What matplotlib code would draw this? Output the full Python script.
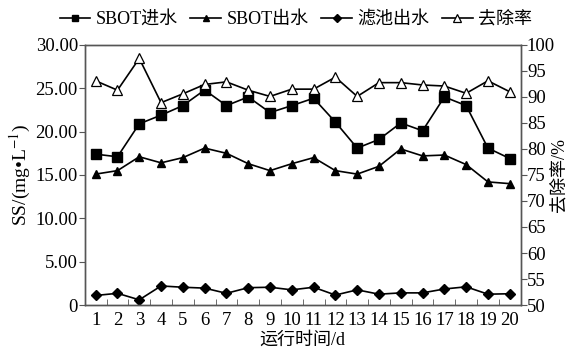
import matplotlib.pyplot as plt
from matplotlib.ticker import FixedLocator, NullFormatter

plt.rcParams['font.family'] = ['Liberation Serif', 'Noto Sans CJK SC']
plt.rcParams['mathtext.fontset'] = 'stix'

# data
days = list(range(1, 21))
sbot_in = [17.4, 17.1, 20.9, 21.9, 23.0, 24.8, 23.0, 24.0, 22.2, 23.0,
           23.85, 21.1, 18.1, 19.1, 21.0, 20.1, 24.0, 23.0, 18.1, 16.9]
sbot_out = [15.1, 15.5, 17.1, 16.4, 17.0, 18.1, 17.5, 16.3, 15.5, 16.3,
            17.0, 15.5, 15.1, 16.0, 18.0, 17.2, 17.3, 16.2, 14.2, 14.0]
filter_out = [1.1, 1.35, 0.6, 2.2, 2.05, 1.95, 1.35, 2.0, 2.05, 1.75,
              2.05, 1.15, 1.75, 1.25, 1.4, 1.4, 1.85, 2.1, 1.25, 1.3]
removal = [93.1, 91.3, 97.4, 88.9, 90.6, 92.4, 92.9, 91.3, 90.1, 91.5,
           91.5, 93.8, 90.1, 92.75, 92.75, 92.3, 92.1, 90.7, 93.1, 91.0]

left_ticks = [0, 5, 10, 15, 20, 25, 30]
left_labels = ['0', '5.00', '10.00', '15.00', '20.00', '25.00', '30.00']
right_ticks = [50, 55, 60, 65, 70, 75, 80, 85, 90, 95, 100]

fig = plt.figure(figsize=(5.69, 3.51), dpi=100)
ax = fig.add_axes([0.149, 0.131, 0.766, 0.741])
ax2 = ax.twinx()

lw = 1.2
l1, = ax.plot(days, sbot_in, color='black', lw=lw, marker='s', ms=6.5, label='SBOT进水')
l2, = ax.plot(days, sbot_out, color='black', lw=lw, marker='^', ms=6, label='SBOT出水')
l3, = ax.plot(days, filter_out, color='black', lw=lw, marker='D', ms=5.5, label='滤池出水')
l4, = ax2.plot(days, removal, color='black', lw=lw, marker='^', ms=7,
               markerfacecolor='white', markeredgewidth=0.9, label='去除率')

ax.set_xlim(0.5, 20.5)
ax.set_ylim(0, 30)
ax2.set_ylim(50, 100)

ax.set_yticks(left_ticks)
ax.set_yticklabels(left_labels)
ax2.set_yticks(right_ticks)

fs = 13.5
ax.set_xticks(days)
ax.set_xticklabels([str(d) for d in days])
ax.tick_params(axis='x', which='major', length=0, pad=5, labelsize=fs)
ax.xaxis.set_minor_locator(FixedLocator([d + 0.5 for d in days[:-1]]))
ax.xaxis.set_minor_formatter(NullFormatter())
ax.tick_params(axis='x', which='minor', direction='in', length=4, color='#555555')
ax.tick_params(axis='y', direction='out', length=4, color='#555555', labelsize=fs, pad=1)
ax2.tick_params(axis='y', direction='out', length=4, color='#555555', labelsize=fs, pad=0.5)

for a in (ax, ax2):
    for s in a.spines.values():
        s.set_color('#555555')
        s.set_linewidth(1.0)

ax.set_xlabel('运行时间/d', fontsize=13, labelpad=2)
ax.set_ylabel('SS/(mg•L$^{-1}$)', fontsize=14, labelpad=2)
ax2.set_ylabel('去除率/%', fontsize=13, labelpad=-3)

fig.legend([l1, l2, l3, l4], [l.get_label() for l in (l1, l2, l3, l4)],
           loc='upper center', bbox_to_anchor=(0.52, 1.015), ncol=4, frameon=False,
           fontsize=13, handlelength=1.7, handletextpad=0.3, columnspacing=0.7,
           markerscale=0.75)

fig.savefig('out.png', dpi=100)
